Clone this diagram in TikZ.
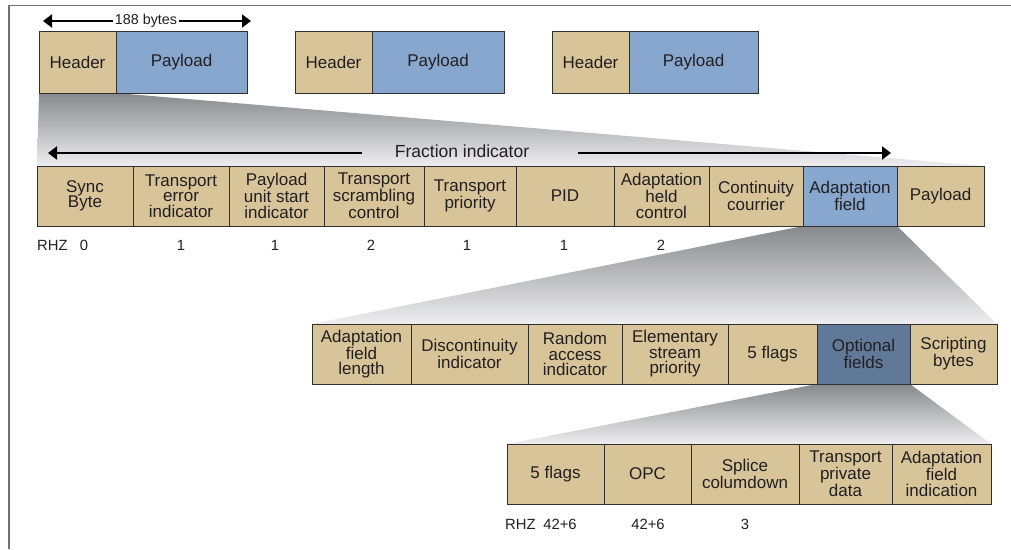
\documentclass[tikz,border=0pt]{standalone}
\usepackage{fontspec}
\setmainfont{Liberation Sans}
\usetikzlibrary{arrows.meta,backgrounds}

\definecolor{tanfill}{RGB}{216,196,153}
\definecolor{bluefill}{RGB}{135,167,207}
\definecolor{slatefill}{RGB}{96,121,153}
\definecolor{inkcol}{RGB}{35,31,32}
\definecolor{edgecol}{RGB}{50,48,46}
\definecolor{framecol}{RGB}{112,112,112}
\definecolor{wedgetop}{RGB}{136,137,141}
\definecolor{wedgebot}{RGB}{238,238,240}

% one field of a packet layout: style, name, x left, x right, y top, y bottom, label
\newcommand\fieldbox[7]{%
  \node[#1, minimum width={(#4-#3)*1pt}, minimum height={(#6-#5)*1pt},
        anchor=north west] (#2) at (#3,#5) {#7};}

\tikzset{
  field/.style={draw=edgecol, line width=0.9pt, inner sep=0pt, outer sep=0pt,
                align=center, text=inkcol, font=\fontsize{17}{15.5}\selectfont},
  tanbox/.style={field, fill=tanfill},
  bluebox/.style={field, fill=bluefill},
  slatebox/.style={field, fill=slatefill},
  wedge/.style={top color=wedgetop, bottom color=wedgebot},
  sizelabel/.style={text=inkcol, inner sep=0pt, font=\fontsize{14.8}{16}\selectfont},
  spanlabel/.style={text=inkcol, inner sep=2pt},
  spanarrow/.style={draw=black, line width=2.8pt,
                    -{Triangle[length=9pt,width=13pt]}},
}

\begin{document}
\begin{tikzpicture}[x=1pt,y=-1pt]
\useasboundingbox (0,0) rectangle (1011,549);

% frame
\draw[framecol, line width=1.5pt] (1011,5.5) -- (9,5.5) -- (9,549);

% transport stream packets
\fieldbox{tanbox}{hdrA}{39}{116}{31}{93}{Header}
\fieldbox{bluebox}{payA}{116}{247}{31}{93}{Payload}
\fieldbox{tanbox}{hdrB}{295}{372}{31}{93}{Header}
\fieldbox{bluebox}{payB}{372}{504}{31}{93}{Payload}
\fieldbox{tanbox}{hdrC}{552}{629}{31}{93}{Header}
\fieldbox{bluebox}{payC}{629}{758}{31}{93}{Payload}

% packet header fields
\fieldbox{tanbox}{sync}{37}{133}{166}{226}{Sync\\Byte}
\fieldbox{tanbox}{tei}{133}{229}{166}{226}{Transport\\error\\indicator}
\fieldbox{tanbox}{pusi}{229}{324}{166}{226}{Payload\\unit start\\indicator}
\fieldbox{tanbox}{tsc}{324}{424}{166}{226}{Transport\\scrambling\\control}
\fieldbox{tanbox}{tprio}{424}{516}{166}{226}{Transport\\priority}
\fieldbox{tanbox}{pid}{516}{614}{166}{226}{PID}
\fieldbox{tanbox}{afc}{614}{709}{166}{226}{Adaptation\\held\\control}
\fieldbox{tanbox}{cc}{709}{803}{166}{226}{Continuity\\courrier}
\fieldbox{bluebox}{adf}{803}{897}{166}{226}{Adaptation\\field}
\fieldbox{tanbox}{hpay}{897}{984}{166}{226}{Payload}

% adaptation field
\fieldbox{tanbox}{afl}{312}{411}{324}{384}{Adaptation\\field\\length}
\fieldbox{tanbox}{disc}{411}{528}{324}{384}{Discontinuity\\indicator}
\fieldbox{tanbox}{rai}{528}{622}{324}{384}{Random\\access\\indicator}
\fieldbox{tanbox}{esp}{622}{728}{324}{384}{Elementary\\stream\\priority}
\fieldbox{tanbox}{flagsA}{728}{817}{324}{384}{5 flags}
\fieldbox{slatebox}{opt}{817}{910}{324}{384}{Optional\\fields}
\fieldbox{tanbox}{scr}{910}{997}{324}{384}{Scripting\\bytes}

% optional fields
\fieldbox{tanbox}{flagsB}{507}{604}{444}{504}{5 flags}
\fieldbox{tanbox}{opc}{604}{691}{444}{504}{OPC}
\fieldbox{tanbox}{splice}{691}{799}{444}{504}{Splice\\columdown}
\fieldbox{tanbox}{tpd}{799}{892}{444}{504}{Transport\\private\\data}
\fieldbox{tanbox}{afi}{892}{991}{444}{504}{Adaptation\\field\\indication}

% expansion wedges, behind the fields
\begin{scope}[on background layer]
\shade[wedge] (hdrA.south west) -- (hdrA.south east) -- (hpay.north east) -- (sync.north west) -- cycle;
\shade[wedge] (adf.south west) -- (adf.south east) -- (scr.north east) -- (afl.north west) -- cycle;
\shade[wedge] (opt.south west) -- (opt.south east) -- (afi.north east) -- (flagsB.north west) -- cycle;
\end{scope}

% span arrows
\node[spanlabel, font=\fontsize{14.3}{16}\selectfont] (bytes) at (146,21) {188 bytes};
\coordinate (bytesL) at (43,21);
\coordinate (bytesR) at (251,21);
\draw[spanarrow] (bytes.west) -- (bytesL);
\draw[spanarrow] (bytes.east) -- (bytesR);

\node[spanlabel, font=\fontsize{17.5}{19}\selectfont] (frac) at (462,151) {Fraction indicator};
\coordinate (fracL) at (48,153);
\coordinate (fracR) at (891,153);
\coordinate (fracLs) at (362,153);
\coordinate (fracRs) at (578,153);
\draw[spanarrow] (fracLs) -- (fracL);
\draw[spanarrow] (fracRs) -- (fracR);

% field sizes
\node[sizelabel, anchor=west] (rhzA) at (37,245) {RHZ};
\node[sizelabel] (szsync) at (84,245) {0};
\node[sizelabel] (sztei) at (181,245) {1};
\node[sizelabel] (szpusi) at (275,245) {1};
\node[sizelabel] (sztsc) at (371,245) {2};
\node[sizelabel] (sztprio) at (467,245) {1};
\node[sizelabel] (szpid) at (564,245) {1};
\node[sizelabel] (szafc) at (661,245) {2};

\node[sizelabel, anchor=west] (rhzB) at (505,524) {RHZ};
\node[sizelabel] (szflags) at (560,524) {42+6};
\node[sizelabel] (szopc) at (648,524) {42+6};
\node[sizelabel] (szsplice) at (745,524) {3};
\end{tikzpicture}
\end{document}
